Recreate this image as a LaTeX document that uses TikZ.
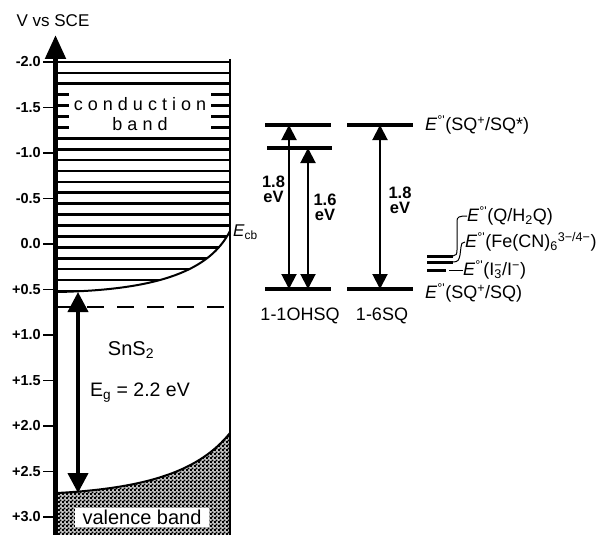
\documentclass[tikz,border=0pt]{standalone}
\usepackage{fontspec}
\setmainfont{Liberation Sans}
\newfontfamily\spacedfont[LetterSpace=28]{Liberation Sans}
\usetikzlibrary{arrows.meta, patterns, positioning}
\pgfdeclarepatternformonly{finecheck}{\pgfqpoint{0pt}{0pt}}{\pgfqpoint{3.6pt}{3.6pt}}{\pgfqpoint{3.6pt}{3.6pt}}{%
  \pgfpathrectangle{\pgfqpoint{0pt}{0pt}}{\pgfqpoint{2pt}{2pt}}%
  \pgfpathrectangle{\pgfqpoint{1.8pt}{1.8pt}}{\pgfqpoint{1.8pt}{1.8pt}}%
  \pgfusepath{fill}}
\newcommand{\Eop}{\textit{E}\textsuperscript{°\textquotesingle}}
\newcommand{\stackss}[2]{\rlap{\textsubscript{#2}}\textsuperscript{#1}}
\tikzset{
  bandline/.style={line width=2.7pt},
  bandedge/.style={line width=2pt},
  axisline/.style={line width=5pt, -{Triangle[length=24pt,width=20pt]}},
  level/.style={line width=4pt},
  redox/.style={line width=3pt},
  leader/.style={line width=1pt},
  gaparrow/.style={{Triangle[length=15pt,width=15pt]}-{Triangle[length=15pt,width=15pt]}, line width=2pt},
  egarrow/.style={{Triangle[length=20pt,width=20pt]}-{Triangle[length=20pt,width=20pt]}, line width=4pt},
  ticklabel/.style={font=\fontsize{14.5}{16}\selectfont\bfseries, anchor=east, inner sep=0pt},
  evlabel/.style={font=\fontsize{16.5}{15}\selectfont\bfseries, align=center, inner sep=0pt},
  potlabel/.style={font=\fontsize{18}{20}\selectfont, anchor=west, inner sep=0pt},
  boxlabel/.style={fill=white, inner sep=0pt}
}

\begin{document}
\begin{tikzpicture}[x=1pt,y=-1pt]
  \useasboundingbox (0,0) rectangle (613,535);

  % conduction band
  \begin{scope}
    \clip (57,59) -- (230,59) -- (230,231) .. controls (210,270) and (160,290) .. (57,292) -- cycle;
    \foreach \k in {0,...,21}
      \draw[bandline] (50,62+\k*10.9) -- (235,62+\k*10.9);
  \end{scope}
  \draw[bandedge] (230,231) .. controls (210,270) and (160,290) .. (57,292);
  \node[boxlabel, minimum width=142pt, minimum height=42pt, align=center,
        font=\fontsize{18}{20}\selectfont\spacedfont] (cblabel) at (140,114) {conduction\\band};
  \node[font=\fontsize{17}{19}\selectfont, anchor=west, inner sep=0pt] (ecb) at (233,232) {\textit{E}\textsubscript{cb}};

  % valence band
  \fill[gray!45] (57,493) .. controls (150,488) and (200,470) .. (230,433) -- (230,536) -- (57,536) -- cycle;
  \fill[pattern=finecheck] (57,493) .. controls (150,488) and (200,470) .. (230,433) -- (230,536) -- (57,536) -- cycle;
  \draw[bandedge] (57,493) .. controls (150,488) and (200,470) .. (230,433);
  \node[boxlabel, minimum width=134pt, minimum height=19pt, font=\fontsize{20}{22}\selectfont] (vblabel) at (142,517) {valence band};

  \draw[line width=2pt, dash pattern=on 17pt off 13pt] (57,306.5) -- (230,306.5);
  \draw[line width=1.6pt] (230,59) -- (230,536);

  % band gap
  \coordinate (cbmin) at (78,292);
  \coordinate (vbmax) at (78,493);
  \draw[egarrow] (cbmin) -- (vbmax);
  \node[font=\fontsize{20}{22}\selectfont] (sns) at (131,350) {SnS\textsubscript{2}};
  \node[font=\fontsize{19.5}{22}\selectfont] (eg) at (140,393) {E\textsubscript{g} = 2.2 eV};

  % potential axis
  \draw[axisline] (55.5,536) -- (55.5,35);
  \node[font=\fontsize{17}{19}\selectfont] (vsce) at (53,21) {V vs SCE};
  \foreach \v [count=\i from 0] in {-2.0,-1.5,-1.0,-0.5,0.0,+0.5,+1.0,+1.5,+2.0,+2.5,+3.0} {
    \draw[line width=1.2pt] (43,62+\i*45.5) -- (55,62+\i*45.5);
    \node[ticklabel] (tick\i) at (41,62+\i*45.5) {\v};
  }

  % dye levels
  \coordinate (ohA) at (289,125);
  \coordinate (ohB) at (308,148);
  \coordinate (ohAlow) at (289,289);
  \coordinate (ohBlow) at (308,289);
  \coordinate (sqA) at (380,125);
  \coordinate (sqAlow) at (380,289);
  \draw[level] (265,125) -- (331,125);
  \draw[level] (267,148) -- (332,148);
  \draw[level] (265,289) -- (331,289);
  \draw[level] (347,125) -- (413,125);
  \draw[level] (347,289) -- (413,289);
  \draw[gaparrow] (ohA) -- (ohAlow);
  \draw[gaparrow] (ohB) -- (ohBlow);
  \draw[gaparrow] (sqA) -- (sqAlow);
  \node[evlabel] (evA) at (273.5,189) {1.8\\eV};
  \node[evlabel] (evB) at (325,207) {1.6\\eV};
  \node[evlabel] (evC) at (400,200) {1.8\\eV};
  \node[font=\fontsize{18}{20}\selectfont] (ohsq) at (300,316) {1-1OHSQ};
  \node[font=\fontsize{18}{20}\selectfont] (sixsq) at (382,316) {1-6SQ};

  % redox levels
  \node[potlabel] (sqstar) at (425,125) {\Eop(SQ\textsuperscript{+}/SQ*)};
  \node[potlabel] (sqground) at (425,293) {\Eop(SQ\textsuperscript{+}/SQ)};
  \node[potlabel] (quin) at (467,216) {\Eop(Q/H\textsubscript{2}Q)};
  \node[potlabel] (ferro) at (465,242) {\Eop(Fe(CN)\textsubscript{6}\textsuperscript{3−/4−})};
  \node[potlabel] (iodide) at (463,270) {\Eop(I\stackss{−}{3}/I\textsuperscript{−})};
  \coordinate (qlevel) at (453,256);
  \coordinate (felevel) at (453,262);
  \coordinate (ilevel) at (446,270);
  \coordinate (ileader) at (449,270);
  \draw[redox] (427,256) -- (qlevel);
  \draw[redox] (427,262) -- (felevel);
  \draw[redox] (427,270) -- (ilevel);
  \draw[leader] (qlevel) .. controls (456,256) and (457,254) .. (457,250) -- (457,221)
    .. controls (457,217) and (459,216) .. (quin.west);
  \draw[leader] (felevel) .. controls (458,262) and (459,260) .. (460,255) -- (461,247)
    .. controls (461,244) and (462,242) .. (ferro.west);
  \draw[leader] (ileader) -- (iodide.west);
\end{tikzpicture}
\end{document}
